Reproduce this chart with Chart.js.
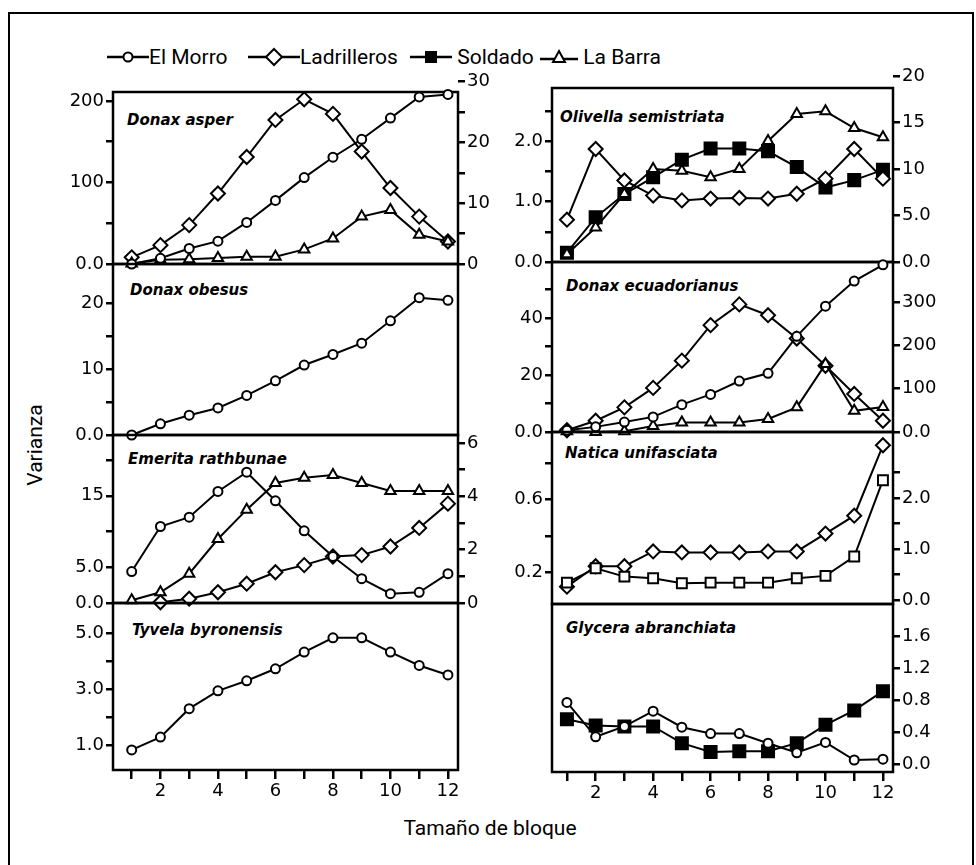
<!DOCTYPE html>
<html>
<head>
<meta charset="utf-8">
<script src="https://cdn.jsdelivr.net/npm/chart.js@4.4.1/dist/chart.umd.min.js"></script>
<style>
  body { margin: 0; background: #fff; }
  #page { position: relative; width: 976px; height: 865px; overflow: hidden; font-family: Roboto, "DejaVu Sans", sans-serif; color: #000; }
  #page canvas { position: absolute; }
  #outer { position: absolute; left: 8px; top: 12px; width: 962px; height: 860px; border: 2px solid #000; border-bottom: none; }
  .leg { position: absolute; top: 45px; height: 24px; line-height: 24px; font-size: 21px; white-space: nowrap; }
  .leg svg { vertical-align: middle; margin-top: -3px; }
  .sp { position: absolute; font: italic bold 15px "DejaVu Sans", sans-serif; line-height: 20px; white-space: nowrap; }
  #ylab { position: absolute; left: 35px; top: 445px; font-size: 21px; transform: translate(-50%, -50%) rotate(-90deg); }
  #xlab { position: absolute; left: 490px; top: 828px; font-size: 21px; transform: translate(-50%, -50%); white-space: nowrap; }
</style>
</head>
<body>
<div id="page">
  <div id="outer"></div>

  <div class="leg" style="left:107px"><svg width="42" height="20"><line x1="0" y1="10" x2="42" y2="10" stroke="#000" stroke-width="2.5"/><circle cx="21" cy="10" r="4.5" fill="#fff" stroke="#000" stroke-width="2"/></svg>El Morro</div>
  <div class="leg" style="left:248px"><svg width="52" height="20"><line x1="0" y1="10" x2="52" y2="10" stroke="#000" stroke-width="2.5"/><polygon points="18,10 26,2 34,10 26,18" fill="#fff" stroke="#000" stroke-width="2"/></svg>Ladrilleros</div>
  <div class="leg" style="left:410px"><svg width="42" height="20"><line x1="0" y1="10" x2="42" y2="10" stroke="#000" stroke-width="2.5"/><rect x="15" y="4" width="12" height="12" fill="#000"/></svg> Soldado</div>
  <div class="leg" style="left:540px"><svg width="38" height="20"><line x1="0" y1="12" x2="38" y2="12" stroke="#000" stroke-width="2.5"/><polygon points="19,4 25,15 13,15" fill="#fff" stroke="#000" stroke-width="2"/></svg> La Barra</div>

  <div class="sp" style="left:127px;top:110px">Donax asper</div>
  <div class="sp" style="left:130px;top:280px">Donax obesus</div>
  <div class="sp" style="left:128px;top:449px">Emerita rathbunae</div>
  <div class="sp" style="left:132px;top:620px">Tyvela byronensis</div>
  <div class="sp" style="left:560px;top:107px">Olivella semistriata</div>
  <div class="sp" style="left:566px;top:276px">Donax ecuadorianus</div>
  <div class="sp" style="left:565px;top:443px">Natica unifasciata</div>
  <div class="sp" style="left:566px;top:618px">Glycera abranchiata</div>

  <div id="ylab">Varianza</div>
  <div id="xlab">Tamaño de bloque</div>

  <canvas id="asper"></canvas>
  <canvas id="obesus"></canvas>
  <canvas id="emerita"></canvas>
  <canvas id="tyvela"></canvas>
  <canvas id="olivella"></canvas>
  <canvas id="ecuadorianus"></canvas>
  <canvas id="natica"></canvas>
  <canvas id="glycera"></canvas>
</div>

<script>
// tamaño de bloque
var blockSizes = [1, 2, 3, 4, 5, 6, 7, 8, 9, 10, 11, 12];
var blockLabels = ['', '2', '', '4', '', '6', '', '8', '', '10', '', '12'];

// Donax asper
var asperMorro = [0, 7, 19, 28, 51, 78, 106, 131, 153, 179, 205, 208];
var asperLadrilleros = [1.1, 3.1, 6.4, 11.6, 17.6, 23.7, 27.1, 24.7, 18.5, 12.5, 7.8, 3.7];
var asperBarra = [0.1, 0.7, 0.8, 1.0, 1.2, 1.2, 2.4, 4.2, 7.8, 8.9, 4.8, 3.7];
var asperLeftTicks = [0, 50, 100, 150, 200];
var asperLeftLabels = ['0.0', '', '100', '', '200'];
var asperRightTicks = [0, 5, 10, 15, 20, 25, 30];
var asperRightLabels = ['0', '', '10', '', '20', '', '30'];

// Donax obesus
var obesusMorro = [0, 1.7, 3.0, 4.1, 6.0, 8.2, 10.6, 12.2, 13.9, 17.3, 20.8, 20.4];
var obesusLeftTicks = [0, 5, 10, 15, 20];
var obesusLeftLabels = ['0.0', '', '10', '', '20'];

// Emerita rathbunae
var emeritaMorro = [4.4, 10.7, 12.0, 15.6, 18.3, 14.3, 10.1, 6.5, 3.4, 1.3, 1.5, 4.1];
var emeritaLadrilleros = [null, 0.1, 0.6, 1.5, 2.7, 4.3, 5.3, 6.5, 6.7, 7.9, 10.5, 13.9];
var emeritaBarra = [0.1, 0.4, 1.1, 2.4, 3.5, 4.5, 4.7, 4.8, 4.5, 4.2, 4.2, 4.2];
var emeritaLeftTicks = [0, 5, 10, 15, 20];
var emeritaLeftLabels = ['0.0', '5.0', '', '15', ''];
var emeritaRightTicks = [0, 1, 2, 3, 4, 5, 6];
var emeritaRightLabels = ['0', '', '2', '', '4', '', '6'];

// Tyvela byronensis
var tyvelaMorro = [0.82, 1.28, 2.30, 2.94, 3.30, 3.73, 4.33, 4.84, 4.84, 4.33, 3.85, 3.51];
var tyvelaLeftTicks = [1, 2, 3, 4, 5];
var tyvelaLeftLabels = ['1.0', '', '3.0', '', '5.0'];

// Olivella semistriata
var olivellaLadrilleros = [0.70, 1.87, 1.35, 1.10, 1.02, 1.05, 1.06, 1.05, 1.13, 1.38, 1.87, 1.38];
var olivellaSoldado = [1.0, 4.8, 7.3, 9.1, 11.0, 12.2, 12.2, 11.9, 10.2, 8.0, 8.8, 9.9];
var olivellaBarra = [0.83, 3.7, 7.3, 10.0, 9.8, 9.1, 10.0, 13.0, 15.9, 16.2, 14.4, 13.4];
var olivellaLeftTicks = [0, 0.5, 1, 1.5, 2, 2.5];
var olivellaLeftLabels = ['0.0', '', '1.0', '', '2.0', ''];
var olivellaRightTicks = [0, 5, 10, 15, 20];
var olivellaRightLabels = ['0.0', '5.0', '10', '15', '20'];

// Donax ecuadorianus
var ecuaMorro = [0.6, 1.8, 3.5, 5.3, 9.6, 13.2, 17.9, 20.6, 33.6, 44.2, 53.0, 58.7];
var ecuaLadrilleros = [4, 26, 57, 102, 165, 247, 295, 270, 216, 153, 88, 26];
var ecuaBarra = [2, 0, 2, 14, 22, 22, 22, 30, 57, 157, 49, 58];
var ecuaLeftTicks = [0, 10, 20, 30, 40, 50];
var ecuaLeftLabels = ['0.0', '', '20', '', '40', ''];
var ecuaRightTicks = [0, 100, 200, 300];
var ecuaRightLabels = ['0.0', '100', '200', '300'];

// Natica unifasciata
var naticaLadrilleros = [0.26, 0.66, 0.66, 0.95, 0.93, 0.93, 0.93, 0.95, 0.95, 1.30, 1.65, 3.03];
var naticaSoldado = [0.145, 0.224, 0.178, 0.169, 0.142, 0.145, 0.145, 0.145, 0.169, 0.182, 0.288, 0.706];
var naticaLeftTicks = [0.2, 0.4, 0.6, 0.8];
var naticaLeftLabels = ['0.2', '', '0.6', ''];
var naticaRightTicks = [0, 0.5, 1, 1.5, 2, 2.5];
var naticaRightLabels = ['0.0', '', '1.0', '', '2.0', ''];

// Glycera abranchiata
var glyceraMorro = [0.77, 0.34, 0.47, 0.66, 0.46, 0.38, 0.38, 0.26, 0.14, 0.27, 0.05, 0.06];
var glyceraSoldado = [0.56, 0.48, 0.47, 0.47, 0.26, 0.15, 0.16, 0.16, 0.26, 0.49, 0.67, 0.91];
var glyceraRightTicks = [0, 0.4, 0.8, 1.2, 1.6];
var glyceraRightLabels = ['0.0', '0.4', '0.8', '1.2', '1.6'];

var tickFont = { family: 'DejaVu Sans', size: 18 };

var markers = {
  morro: { pointStyle: 'circle', radius: 4.5, fill: '#fff' },
  ladrilleros: { pointStyle: 'rectRot', radius: 7, fill: '#fff' },
  soldado: { pointStyle: 'rect', radius: 8.5, fill: '#000' },
  soldadoOpen: { pointStyle: 'rect', radius: 7, fill: '#fff' },
  barra: { pointStyle: 'triangle', radius: 6, fill: '#fff' }
};

var framePlugin = {
  id: 'frame',
  beforeDatasetsDraw: function (chart) {
    var a = chart.chartArea, c = chart.ctx;
    c.save();
    c.strokeStyle = '#000';
    c.lineWidth = 2.5;
    c.strokeRect(a.left, a.top, a.right - a.left, a.bottom - a.top);
    c.restore();
  }
};

function yScale(pos, ax, width) {
  var has = ax.ticks && ax.ticks.length > 0;
  var s = {
    type: 'linear',
    position: pos,
    min: ax.min,
    max: ax.max,
    afterFit: function (sc) { sc.width = width; },
    ticks: {
      display: has,
      autoSkip: false,
      padding: 2,
      color: '#000',
      font: tickFont,
      callback: function (v, i) { return has ? ax.labels[i] : ''; }
    },
    grid: { display: has, drawOnChartArea: false, drawTicks: true, tickLength: 7, color: '#000', lineWidth: 2.5 },
    border: { display: false }
  };
  if (has) {
    s.afterBuildTicks = function (sc) {
      sc.ticks = ax.ticks.map(function (v) { return { value: v }; });
    };
  }
  return s;
}

function drawPanel(id, box, xRange, showX, series, left, right) {
  var LW = 80, RW = 80, TOP = 26, BOTTOM = showX ? 42 : 16;
  var canvas = document.getElementById(id);
  canvas.width = box[1] - box[0] + LW + RW;
  canvas.height = box[3] - box[2] + TOP + BOTTOM;
  canvas.style.left = (box[0] - LW) + 'px';
  canvas.style.top = (box[2] - TOP) + 'px';

  var datasets = series.map(function (s) {
    var m = markers[s.marker];
    return {
      label: s.name,
      data: blockSizes.map(function (x, i) { return { x: x, y: s.values[i] }; }),
      yAxisID: s.axis,
      borderColor: '#000',
      borderWidth: 2,
      tension: 0,
      pointStyle: m.pointStyle,
      pointRadius: m.radius,
      pointBackgroundColor: m.fill,
      pointBorderColor: '#000',
      pointBorderWidth: 2,
      clip: false
    };
  });

  new Chart(canvas.getContext('2d'), {
    type: 'line',
    data: { datasets: datasets },
    options: {
      responsive: false,
      animation: false,
      layout: { padding: { top: TOP, bottom: showX ? 0 : BOTTOM, left: 0, right: 0 } },
      plugins: { legend: { display: false }, tooltip: { enabled: false } },
      scales: {
        x: {
          type: 'linear',
          display: showX,
          min: xRange[0],
          max: xRange[1],
          afterFit: function (sc) { sc.height = showX ? BOTTOM : 0; },
          afterBuildTicks: function (sc) {
            sc.ticks = blockSizes.map(function (v) { return { value: v }; });
          },
          ticks: {
            autoSkip: false,
            maxRotation: 0,
            padding: 2,
            color: '#000',
            font: tickFont,
            callback: function (v, i) { return blockLabels[i]; }
          },
          grid: { drawOnChartArea: false, drawTicks: true, tickLength: 9, color: '#000', lineWidth: 2.5 },
          border: { display: false }
        },
        yL: yScale('left', left, LW),
        yR: yScale('right', right, RW)
      }
    },
    plugins: [framePlugin]
  });
}

var xLeft = [0.35, 12.35];
var xRight = [0.48, 12.35];

// left column
drawPanel('asper', [113, 458, 92, 264], xLeft, false, [
  { name: 'El Morro', values: asperMorro, marker: 'morro', axis: 'yL' },
  { name: 'La Barra', values: asperBarra, marker: 'barra', axis: 'yR' },
  { name: 'Ladrilleros', values: asperLadrilleros, marker: 'ladrilleros', axis: 'yR' }
], { min: 0, max: 211, ticks: asperLeftTicks, labels: asperLeftLabels },
   { min: 0, max: 28.3, ticks: asperRightTicks, labels: asperRightLabels });

drawPanel('obesus', [113, 458, 264, 435], xLeft, false, [
  { name: 'El Morro', values: obesusMorro, marker: 'morro', axis: 'yL' }
], { min: 0, max: 25.9, ticks: obesusLeftTicks, labels: obesusLeftLabels },
   { min: 0, max: 1, ticks: [], labels: [] });

drawPanel('emerita', [113, 458, 435, 603], xLeft, false, [
  { name: 'El Morro', values: emeritaMorro, marker: 'morro', axis: 'yL' },
  { name: 'Ladrilleros', values: emeritaLadrilleros, marker: 'ladrilleros', axis: 'yL' },
  { name: 'La Barra', values: emeritaBarra, marker: 'barra', axis: 'yR' }
], { min: 0, max: 23.5, ticks: emeritaLeftTicks, labels: emeritaLeftLabels },
   { min: 0, max: 6.3, ticks: emeritaRightTicks, labels: emeritaRightLabels });

drawPanel('tyvela', [113, 458, 603, 770], xLeft, true, [
  { name: 'El Morro', values: tyvelaMorro, marker: 'morro', axis: 'yL' }
], { min: 0.1, max: 6.09, ticks: tyvelaLeftTicks, labels: tyvelaLeftLabels },
   { min: 0, max: 1, ticks: [], labels: [] });

// right column
drawPanel('olivella', [552, 893, 88, 262], xRight, false, [
  { name: 'Ladrilleros', values: olivellaLadrilleros, marker: 'ladrilleros', axis: 'yL' },
  { name: 'La Barra', values: olivellaBarra, marker: 'barra', axis: 'yR' },
  { name: 'Soldado', values: olivellaSoldado, marker: 'soldado', axis: 'yR' }
], { min: 0, max: 2.88, ticks: olivellaLeftTicks, labels: olivellaLeftLabels },
   { min: 0, max: 18.7, ticks: olivellaRightTicks, labels: olivellaRightLabels });

drawPanel('ecuadorianus', [552, 893, 262, 432], xRight, false, [
  { name: 'El Morro', values: ecuaMorro, marker: 'morro', axis: 'yL' },
  { name: 'La Barra', values: ecuaBarra, marker: 'barra', axis: 'yR' },
  { name: 'Ladrilleros', values: ecuaLadrilleros, marker: 'ladrilleros', axis: 'yR' }
], { min: 0, max: 59.7, ticks: ecuaLeftTicks, labels: ecuaLeftLabels },
   { min: 0, max: 393, ticks: ecuaRightTicks, labels: ecuaRightLabels });

drawPanel('natica', [552, 893, 432, 604], xRight, false, [
  { name: 'Soldado', values: naticaSoldado, marker: 'soldadoOpen', axis: 'yL' },
  { name: 'Ladrilleros', values: naticaLadrilleros, marker: 'ladrilleros', axis: 'yR' }
], { min: 0.028, max: 0.97, ticks: naticaLeftTicks, labels: naticaLeftLabels },
   { min: -0.08, max: 3.29, ticks: naticaRightTicks, labels: naticaRightLabels });

drawPanel('glycera', [552, 893, 604, 772], xRight, true, [
  { name: 'El Morro', values: glyceraMorro, marker: 'morro', axis: 'yR' },
  { name: 'Soldado', values: glyceraSoldado, marker: 'soldado', axis: 'yR' }
], { min: 0, max: 1, ticks: [], labels: [] },
   { min: -0.1, max: 2.0, ticks: glyceraRightTicks, labels: glyceraRightLabels });
</script>
</body>
</html>
